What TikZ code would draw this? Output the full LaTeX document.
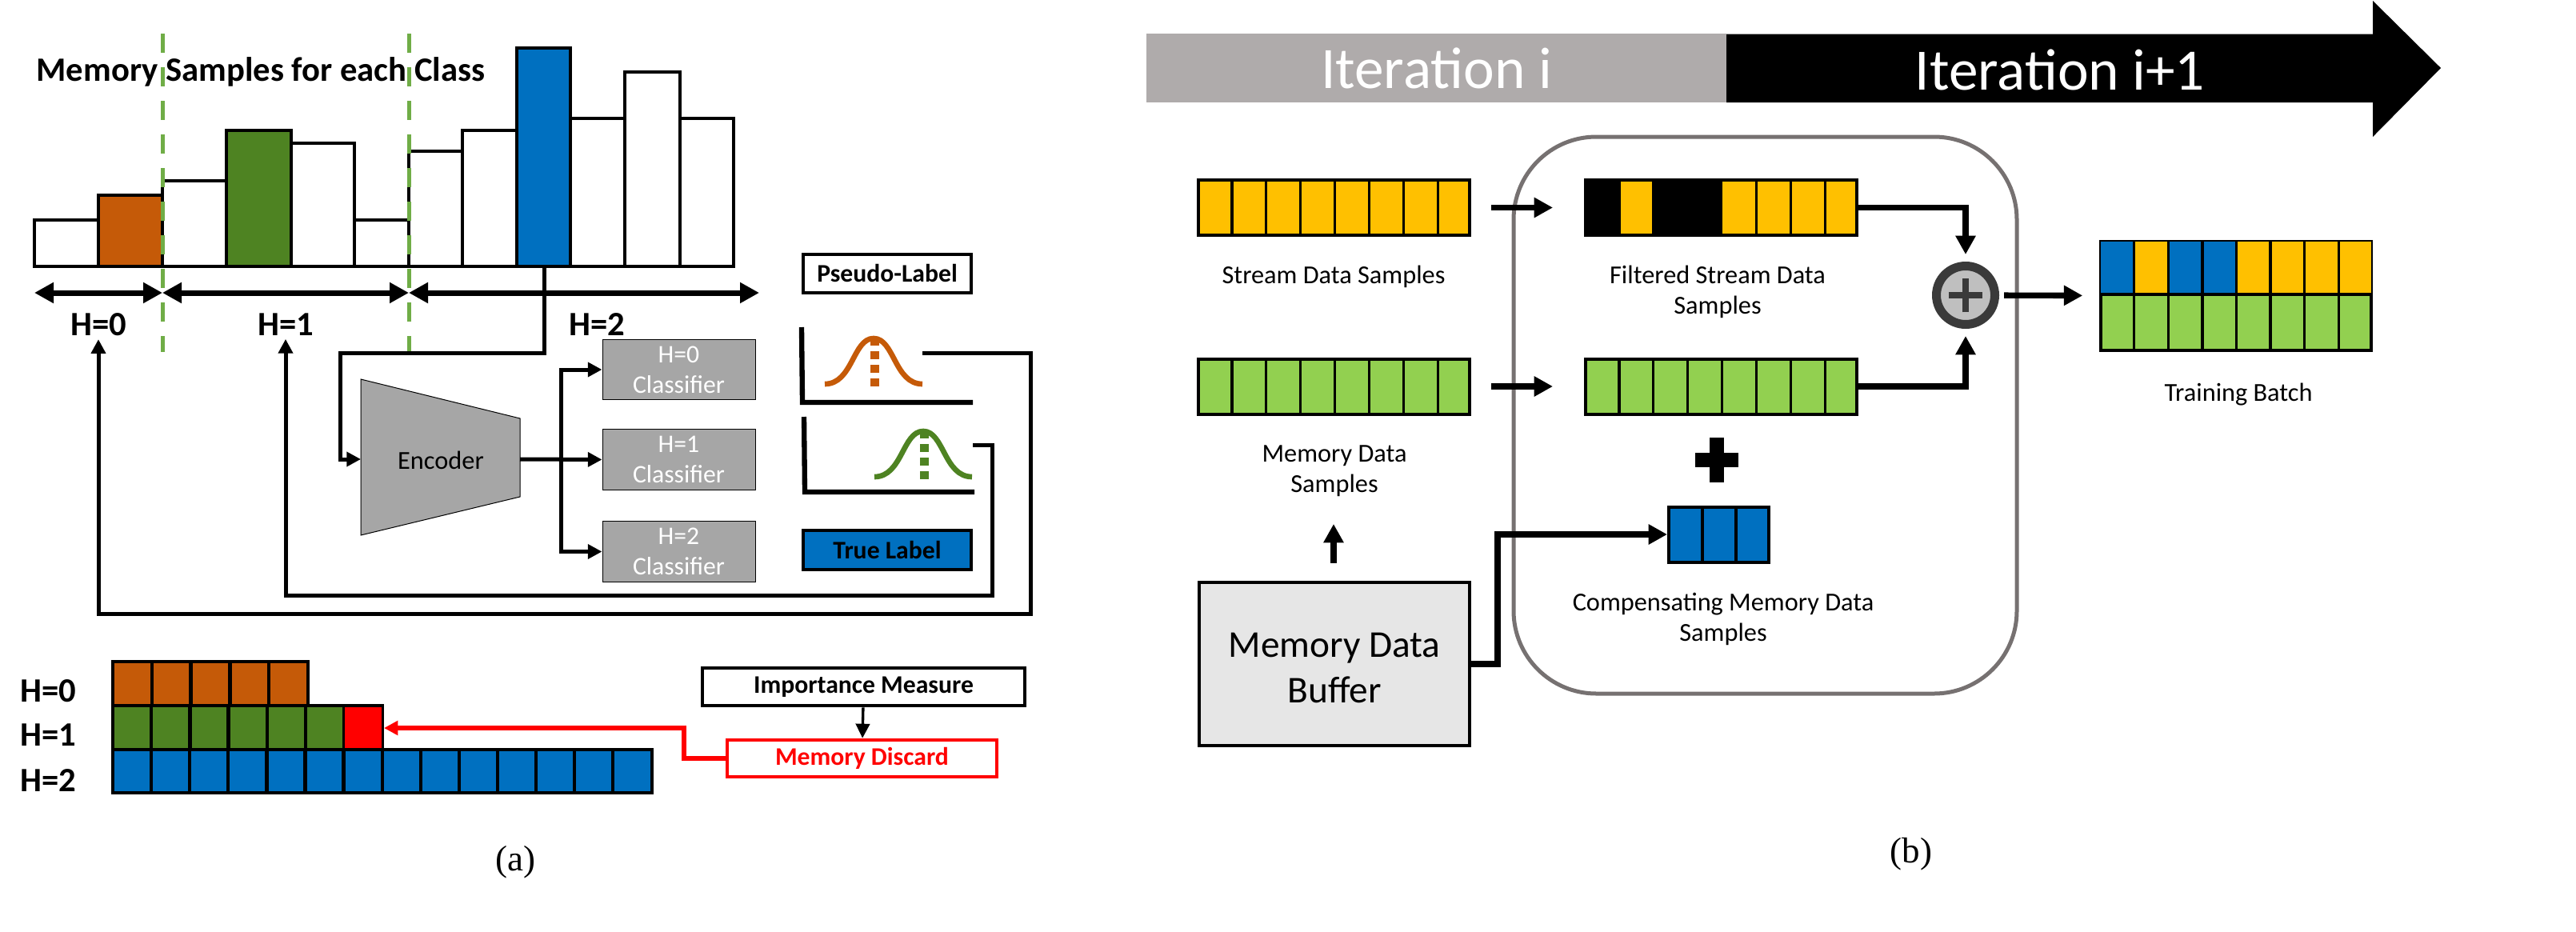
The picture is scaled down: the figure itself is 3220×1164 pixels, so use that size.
\documentclass[tikz,border=0pt]{standalone}
\usepackage{xcolor}
\usepackage{fontspec}
\setmainfont{Carlito}
\newfontfamily\captionfont{Liberation Serif}
\usepackage{tikz}
\usetikzlibrary{arrows.meta}

\definecolor{orangebar}{HTML}{C55A08}
\definecolor{greenbar}{HTML}{4E8322}
\definecolor{bluebar}{HTML}{0070C0}
\definecolor{dashgreen}{HTML}{70AD47}
\definecolor{boxgray}{HTML}{A6A6A6}
\definecolor{itergray}{HTML}{AFABAB}
\definecolor{framegray}{HTML}{767171}
\definecolor{amber}{HTML}{FFC000}
\definecolor{lightgreen}{HTML}{92D050}
\definecolor{buffergray}{HTML}{E6E6E6}
\definecolor{ringgray}{HTML}{3A3A3A}
\definecolor{sumgray}{HTML}{BFBFBF}

\tikzset{
	barline/.style={draw=black, line width=1.2pt},
	splitline/.style={draw=dashgreen, line width=1.5pt, dash pattern=on 7.2pt off 5.4pt},
	spanarrow/.style={line width=2.1pt, {Triangle[length=7.2pt, width=7.4pt]}-{Triangle[length=7.2pt, width=7.4pt]}},
	wire/.style={line width=1.5pt, -{Triangle[length=5.3pt, width=5.3pt]}},
	boldwire/.style={line width=2.2pt, -{Triangle[length=7pt, width=7.2pt]}},
	hlabel/.style={font=\fontsize{12.8}{15}\selectfont\bfseries, inner sep=1pt},
	smalllabel/.style={font=\fontsize{9.7}{11.4}\selectfont, align=center, inner sep=0pt},
	classifier/.style={draw=black, line width=0.3pt, fill=boxgray, text=white, font=\fontsize{9.5}{11.4}\selectfont, align=center, minimum width=57.3pt, minimum height=22.6pt, inner sep=0pt},
	labelbox/.style={draw=black, line width=1.2pt, font=\fontsize{9.5}{11.4}\selectfont\bfseries, minimum width=63pt, minimum height=14.4pt, inner sep=0pt},
	axisline/.style={line width=1.9pt},
	bell/.style={line width=2pt},
	belldash/.style={line width=3.3pt, dash pattern=on 3pt off 2.1pt},
	cellbox/.style={draw=black, line width=1.2pt, inner sep=0pt, minimum height=20.7pt},
	cellline/.style={line width=1pt},
	stackline/.style={line width=1.3pt},
	captionlabel/.style={font=\captionfont\fontsize{13.5}{16}\selectfont, inner sep=0pt}
}

\begin{document}
\begin{tikzpicture}[x=0.3pt, y=-0.3pt]
	\useasboundingbox (0, 0) rectangle (3220, 1164);

	\draw[barline] (43, 333) rectangle (122.5, 275);
	\draw[barline, fill=orangebar] (122.5, 333) rectangle (203, 244);
	\draw[barline] (203, 333) rectangle (282.5, 226);
	\draw[barline, fill=greenbar] (282.5, 333) rectangle (363.5, 163);
	\draw[barline] (363.5, 333) rectangle (443, 179);
	\draw[barline] (443, 333) rectangle (511, 275);
	\draw[barline] (511, 333) rectangle (578, 189);
	\draw[barline] (578, 333) rectangle (645.5, 163);
	\draw[barline] (713, 333) rectangle (780.6, 148);
	\draw[barline] (780.6, 333) rectangle (849.5, 90);
	\draw[barline] (849.5, 333) rectangle (917, 148);
	\draw[barline, fill=bluebar] (645.5, 333) rectangle (713, 60);
	\draw[splitline] (203, 42) -- (203, 440);
	\draw[splitline] (511, 42) -- (511, 440);
	\node[hlabel, anchor=west, inner sep=0pt] (histtitle) at (45, 90) {Memory Samples for each Class};

	\coordinate (spanstart) at (43, 366);
	\coordinate (spanone) at (203, 366);
	\coordinate (spantwo) at (511, 366);
	\coordinate (spanend) at (949, 366);
	\draw[spanarrow] (spanstart) -- (spanone);
	\draw[spanarrow] (spanone) -- (spantwo);
	\draw[spanarrow] (spantwo) -- (spanend);
	\node[hlabel] (hzero) at (123, 406) {H=0};
	\node[hlabel] (hone) at (357, 406) {H=1};
	\node[hlabel] (htwo) at (746, 406) {H=2};

	\draw[draw=black, line width=0.3pt, fill=boxgray] (451, 474) -- (650, 523) -- (650, 621) -- (451, 669) -- cycle;
	\node[smalllabel] (encoder) at (551, 575) {Encoder};
	\node[classifier] (clfzero) at (848.5, 462) {H=0\\Classifier};
	\node[classifier] (clfone) at (848.5, 574.5) {H=1\\Classifier};
	\node[classifier] (clftwo) at (848.5, 689.5) {H=2\\Classifier};

	\coordinate (bluebottom) at (680, 333);
	\coordinate (encturn) at (425, 441);
	\coordinate (encin) at (451, 574);
	\coordinate (encout) at (650, 574);
	\coordinate (encfork) at (701, 574);
	\draw[wire] (bluebottom) |- (encturn) |- (encin);
	\draw[wire] (encout) -- (clfone.west);
	\draw[wire] (encfork) |- (clfzero.west);
	\draw[wire] (encfork) |- (clftwo.west);

	\node[labelbox] (pseudo) at (1109, 341.5) {Pseudo-Label};
	\node[labelbox, fill=bluebar, minimum height=14.7pt] (truelabel) at (1109, 687.5) {True Label};

	\draw[axisline] (1002, 409) -- (1003, 503) -- (1216, 503);
	\draw[bell, draw=orangebar] (1031, 480) .. controls (1066, 480) and (1066, 423) .. (1092, 423) .. controls (1118, 423) and (1118, 480) .. (1153, 480);
	\draw[belldash, draw=orangebar] (1093, 483) -- (1093, 420);
	\draw[axisline] (1005, 521) -- (1006, 615) -- (1218, 615);
	\draw[bell, draw=greenbar] (1093, 596) .. controls (1128, 596) and (1128, 539) .. (1154, 539) .. controls (1180, 539) and (1180, 596) .. (1215, 596);
	\draw[belldash, draw=greenbar] (1155, 599) -- (1155, 536);

	\coordinate (orangeout) at (1153, 441);
	\coordinate (orangeturn) at (1288, 767);
	\coordinate (greenout) at (1216, 556);
	\coordinate (greenturn) at (1240, 744);
	\draw[wire] (orangeout) -| (orangeturn) -| (hzero.south);
	\draw[wire] (greenout) -| (greenturn) -| (hone.south);

	\node[hlabel] (rowzero) at (60.5, 864) {H=0};
	\node[hlabel] (rowone) at (60.5, 919) {H=1};
	\node[hlabel] (rowtwo) at (60.5, 975) {H=2};
	\draw[stackline, fill=orangebar] (141, 827) rectangle (385, 882);
	\foreach \i in {1,...,4} \draw[stackline] ({141+\i*48.8}, 827) -- ({141+\i*48.8}, 882);
	\draw[stackline, fill=greenbar] (141, 882) rectangle (478, 937);
	\foreach \i in {1,...,6} \draw[stackline] ({141+\i*48.2}, 882) -- ({141+\i*48.2}, 937);
	\fill[red] (431, 884) rectangle (477, 935);
	\draw[stackline, fill=bluebar] (141, 937) rectangle (815, 991);
	\foreach \i in {1,...,13} \draw[stackline] ({141+\i*48.1}, 937) -- ({141+\i*48.1}, 991);

	\node[labelbox, minimum width=121pt, minimum height=14.3pt] (importance) at (1079.5, 858.5) {Importance Measure};
	\node[labelbox, draw=red, text=red, minimum width=101pt, minimum height=14pt] (discard) at (1077.5, 948) {Memory Discard};
	\draw[line width=1pt, -{Triangle[length=5.4pt, width=5.2pt]}] (importance) -- (discard);
	\coordinate (discardturn) at (855, 910);
	\coordinate (redcell) at (480, 910);
	\draw[red, line width=1.6pt, -{Triangle[length=5.2pt, width=5.2pt]}] (discard.west) -| (discardturn) -- (redcell);

	\node[captionlabel] (captiona) at (644, 1078) {(a)};

	\node[fill=itergray, text=white, font=\fontsize{22}{25}\selectfont, minimum width=217.5pt, minimum height=25.8pt, inner sep=0pt] (iteri) at (1795.5, 85) {\raisebox{-1pt}{Iteration i}};
	\fill (2158, 42.5) -- (2966, 42.5) -- (2966, 1) -- (3051, 85) -- (2966, 171) -- (2966, 128) -- (2158, 128) -- cycle;
	\node[text=white, font=\fontsize{22}{25}\selectfont, inner sep=0pt] (iterj) at (2575, 87) {Iteration i+1};

	\draw[framegray, line width=1.5pt, rounded corners=31pt] (1892, 171) rectangle (2521, 867);

	\node[cellbox, fill=amber, minimum width=101.7pt] (stream) at (1667.5, 259.5) {};
	\foreach \i in {1,...,7} \draw[cellline] ({1497+\i*42.9}, 225) -- ({1497+\i*42.9}, 294);
	\node[cellbox, fill=lightgreen, minimum width=101.7pt] (memory) at (1667.5, 483) {};
	\foreach \i in {1,...,7} \draw[cellline] ({1497+\i*42.9}, 449) -- ({1497+\i*42.9}, 517);
	\node[cellbox, fill=amber, minimum width=101.7pt] (filtered) at (2151.5, 259.5) {};
	\fill (1980, 223) rectangle (2026, 296);
	\fill (2065, 223) rectangle (2153, 296);
	\foreach \i in {5,...,7} \draw[cellline] ({1981+\i*42.9}, 225) -- ({1981+\i*42.9}, 294);
	\node[cellbox, fill=lightgreen, minimum width=101.7pt] (memorycopy) at (2151.5, 483) {};
	\foreach \i in {1,...,7} \draw[cellline] ({1981+\i*42.9}, 449) -- ({1981+\i*42.9}, 517);
	\node[cellbox, fill=bluebar, minimum width=37.5pt] (compensate) at (2148.5, 668) {};
	\foreach \i in {1,2} \draw[cellline] ({2086+\i*42}, 634) -- ({2086+\i*42}, 702);

	\node[smalllabel] (streamtext) at (1667, 346) {Stream Data Samples};
	\node[smalllabel] (filteredtext) at (2147, 365) {Filtered Stream Data\\Samples};
	\node[smalllabel] (memorytext) at (1668, 589) {Memory Data\\Samples};
	\node[smalllabel] (compensatetext) at (2154, 774) {Compensating Memory Data\\Samples};
	\node[smalllabel] (batchtext) at (2798, 493) {Training Batch};

	\node[draw=black, line width=1.2pt, fill=buffergray, font=\fontsize{14.2}{17}\selectfont, align=center, minimum width=101.4pt, minimum height=61.2pt, inner sep=0pt] (buffer) at (1668, 830) {\rule{0pt}{12pt}Memory Data\\Buffer};
	\coordinate (bufferup) at (1667, 703.5);
	\coordinate (bufferuptip) at (1667, 655);
	\draw[boldwire] (bufferup) -- (bufferuptip);
	\coordinate (bufferturn) at (1872, 668);
	\draw[boldwire] (buffer.east) -| (bufferturn) -- (compensate.west);

	\draw[line width=5.4pt] (2119, 575) -- (2173, 575);
	\draw[line width=5.3pt] (2146, 547) -- (2146, 603);

	\draw[boldwire, shorten <=7.5pt, shorten >=11.7pt] (stream) -- (filtered);
	\draw[boldwire, shorten <=7.5pt, shorten >=11.7pt] (memory) -- (memorycopy);

	\node[circle, draw=ringgray, fill=sumgray, line width=3.3pt, minimum size=21.9pt, inner sep=0pt] (sum) at (2457, 369) {};
	\draw[ringgray, line width=2.4pt] ([xshift=-6.2pt] sum.center) -- ([xshift=6.2pt] sum.center);
	\draw[ringgray, line width=2.4pt] ([yshift=-6.4pt] sum.center) -- ([yshift=6.4pt] sum.center);
	\draw[boldwire, shorten >=2.7pt] (filtered) -| (sum);
	\draw[boldwire, shorten >=2.7pt] (memorycopy) -| (sum);

	\node[draw=black, line width=1.2pt, inner sep=0pt, minimum width=101.3pt, minimum height=41pt, fill=lightgreen] (batch) at (2795, 370) {};
	\fill[amber] (2626, 302) rectangle (2964, 368);
	\fill[bluebar] (2626, 302) rectangle (2667, 368);
	\fill[bluebar] (2711, 302) rectangle (2796, 368);
	\foreach \i in {1,...,7} \draw[cellline] ({2625+\i*42.6}, 302) -- ({2625+\i*42.6}, 438);
	\draw[cellline] (2625, 368) -- (2965, 368);
	\draw[boldwire, shorten <=1.8pt, shorten >=6.3pt] (sum) -- (batch);

	\node[captionlabel] (captionb) at (2389, 1068) {(b)};
\end{tikzpicture}
\end{document}
